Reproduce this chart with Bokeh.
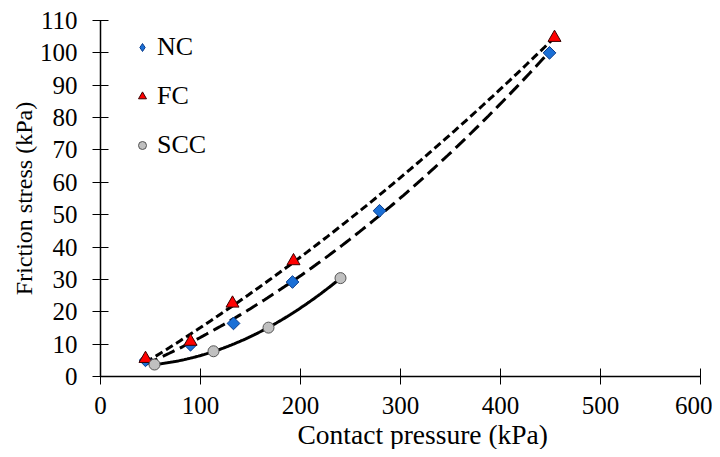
import numpy as np
from bokeh.plotting import figure
from bokeh.models import FixedTicker, Legend, LegendItem, Range1d, Title
from bokeh.embed import file_html
from bokeh.resources import INLINE

# ---- data ----
nc_x = [45, 90, 133, 192, 279, 449]
nc_y = [5.0, 9.8, 16.4, 29.2, 51.2, 100.0]
fc_x = [45, 90, 132, 193, 454]
fc_y = [5.5, 10.8, 22.6, 35.7, 104.7]
scc_x = [54, 113, 168, 240]
scc_y = [3.7, 7.8, 15.1, 30.4]

x_ticks = [0, 100, 200, 300, 400, 500, 600]
y_ticks = [0, 10, 20, 30, 40, 50, 60, 70, 80, 90, 100, 110]

FONT = "Liberation Serif"

p = figure(width=712, height=449, output_backend="svg", toolbar_location=None,
           x_range=Range1d(0, 600), y_range=Range1d(0, 110),
           min_border_left=100, min_border_right=12, min_border_top=20,
           min_border_bottom=73)
p.outline_line_color = None
p.xgrid.visible = False
p.ygrid.visible = False
p.background_fill_color = "white"
p.border_fill_color = "white"


def trend(xs, ys):
    c = np.polyfit(xs, ys, 2)
    xx = np.linspace(min(xs), max(xs), 120)
    return xx, np.polyval(c, xx)


tx, ty = trend(nc_x, nc_y)
p.line(tx, ty, line_color="black", line_width=3, line_dash="13 6")
tx, ty = trend(fc_x, fc_y)
p.line(tx, ty, line_color="black", line_width=3, line_dash="8 4")
tx, ty = trend(scc_x, scc_y)
p.line(tx, ty, line_color="black", line_width=3)

NC_FILL, NC_LINE = "#1a6fd6", "#0b3d8c"
r_nc = p.scatter(nc_x, nc_y, marker="square", angle=np.pi / 4, size=9,
                 fill_color=NC_FILL, line_color=NC_LINE, line_width=1)
r_fc = p.scatter(fc_x, fc_y, marker="triangle", size=13, fill_color="#ff0000",
                 line_color="#3a0000", line_width=1)
r_scc = p.scatter(scc_x, scc_y, marker="circle", size=11, fill_color="#c0c0c0",
                  line_color="#555555", line_width=1)
# legend swatch for NC (diamond shape); hidden in the plot itself
r_nc_key = p.scatter(nc_x, nc_y, marker="diamond", size=15, visible=False,
                     fill_color=NC_FILL, line_color=NC_LINE, line_width=1)

legend = Legend(items=[LegendItem(label="NC", renderers=[r_nc_key]),
                       LegendItem(label="FC", renderers=[r_fc]),
                       LegendItem(label="SCC", renderers=[r_scc])],
                location=(32, 216), orientation="vertical",
                border_line_color=None, background_fill_alpha=0,
                inactive_fill_alpha=0, click_policy="none",
                padding=0, margin=0, spacing=19,
                glyph_width=20, glyph_height=30, label_height=30,
                label_standoff=5, label_text_font=FONT,
                label_text_font_size="26px", label_text_color="black")
p.add_layout(legend)

for ax in (p.xaxis[0], p.yaxis[0]):
    ax.axis_line_color = "black"
    ax.axis_line_width = 1.5
    ax.major_tick_line_color = "black"
    ax.major_tick_line_width = 1
    ax.major_tick_in = 8
    ax.major_tick_out = 8
    ax.minor_tick_line_color = None
    ax.major_label_text_font = FONT
    ax.major_label_text_font_size = "25px"
    ax.major_label_text_color = "black"

p.xaxis.ticker = FixedTicker(ticks=x_ticks)
p.yaxis.ticker = FixedTicker(ticks=y_ticks)
p.xaxis.major_label_standoff = 12
p.yaxis.major_label_standoff = 15

p.yaxis.axis_label = "Friction stress (kPa)"
p.yaxis.axis_label_text_font = FONT
p.yaxis.axis_label_text_font_size = "24px"
p.yaxis.axis_label_text_font_style = "normal"
p.yaxis.axis_label_text_color = "black"
p.yaxis.axis_label_standoff = 0

xtitle = Title(text="Contact pressure (kPa)", align="left", offset=197,
               text_font=FONT, text_font_size="27.5px", text_font_style="normal",
               text_color="black", standoff=0)
p.add_layout(xtitle, "below")

open("out.html", "w").write(file_html(p, INLINE))
